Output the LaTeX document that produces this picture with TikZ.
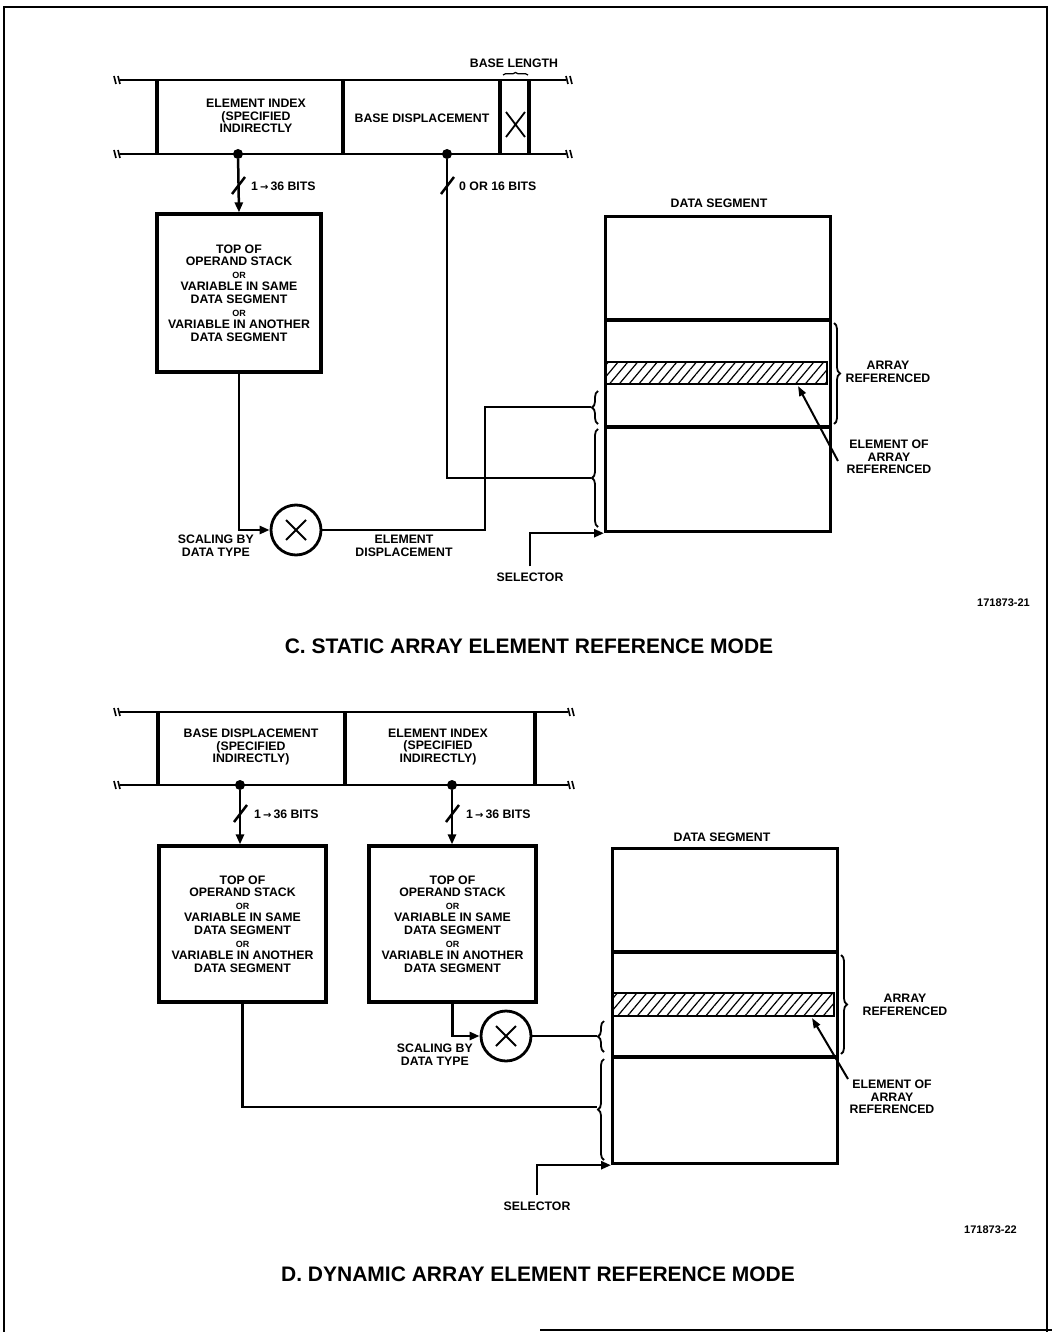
\documentclass[tikz,border=0pt]{standalone}
\usepackage{fontspec}
\setmainfont{Liberation Sans}
\newfontfamily\dejavu{DejaVu Sans}
\usetikzlibrary{arrows.meta,decorations.pathreplacing,patterns.meta,calc}
\tikzset{
  lbl/.style={font=\bfseries\fontsize{12.3}{12.6}\selectfont, inner sep=0pt, align=center},
  boxtxt/.style={font=\bfseries\fontsize{12.3}{12.6}\selectfont, align=center},
  ttl/.style={font=\bfseries\fontsize{21}{22}\selectfont, inner sep=0pt},
  figcap/.style={font=\bfseries\fontsize{11}{12}\selectfont, inner sep=0pt},
  fbox/.style={draw, line width=3.2pt},
  wire/.style={line width=2.5pt},
  arr/.style={wire, -{Triangle[length=10pt,width=8pt]}},
  tarr/.style={line width=2pt, -{Triangle[length=10pt,width=7pt]}},
  dot/.style={circle, fill, inner sep=0pt, minimum size=10pt},
  mult/.style={circle, draw, line width=2.8pt, minimum size=50pt, inner sep=0pt},
  brc/.style={decorate, decoration={brace, amplitude=6pt}, line width=1.8pt},
  hatch/.style={draw, line width=2pt, pattern={Lines[angle=50,distance=7.5pt,line width=1.2pt]}},
  brk/.style={line width=1.6pt},
}
\newcommand{\orw}{{\fontsize{9}{9}\selectfont OR}}
\newcommand{\stacktext}{TOP OF\\OPERAND STACK\\\orw\\VARIABLE IN SAME\\DATA SEGMENT\\\orw\\VARIABLE IN ANOTHER\\DATA SEGMENT}
\newcommand{\bitsarrow}{{\dejavu\fontsize{10}{10}\selectfont→}}
\begin{document}
\begin{tikzpicture}[x=1pt,y=-1pt]
\useasboundingbox (0,0) rectangle (1052,1332);
% page frame
\draw[line width=2pt] (4,1332) -- (4,7) -- (1047,7) -- (1047,1332);
\draw[line width=2pt] (540,1330) -- (1052,1330);

%================ PART C ================
\draw[wire] (120,80) -- (566,80);
\draw[wire] (120,154) -- (566,154);
\foreach \yy in {80,154}{
  \draw[brk] (114,\yy-4) -- (116,\yy+4) (118,\yy-4) -- (120,\yy+4);
  \draw[brk] (566,\yy-4) -- (568,\yy+4) (570,\yy-4) -- (572,\yy+4);
}
\foreach \xx in {157,343,500,529}{\draw[line width=3.2pt] (\xx,80) -- (\xx,154);}
\node[lbl] (eiC) at (256,116) {ELEMENT INDEX\\(SPECIFIED\\INDIRECTLY};
\node[lbl] (bdC) at (422,118) {BASE DISPLACEMENT};
\draw[line width=1.8pt] (506,112) -- (525,137) (506,137) -- (525,112);
\node[lbl] (blC) at (514,63) {BASE LENGTH};
\draw[decorate, decoration={brace, amplitude=2.5pt}, line width=1.3pt] (503,75) -- (528,75);

\node[dot] (dC1) at (238,154) {};
\node[dot] (dC2) at (447,154) {};
\node[fbox, minimum width=164pt, minimum height=158pt, boxtxt] (bC1) at (239,293) {\stacktext};
\draw[arr] (dC1) -- (bC1.north);
\draw[wire] (232,194) -- (245,177);
\node[lbl, anchor=west] (bitsC1) at (251,186) {1\,\bitsarrow\,36 BITS};
\draw[wire] (441,194) -- (454,177);
\node[lbl, anchor=west] (bitsC2) at (459,186) {0 OR 16 BITS};

\node[lbl] (dsCl) at (719,203) {DATA SEGMENT};
\node[fbox, minimum width=225pt, minimum height=315pt, anchor=north west] (dsC) at (604,215) {};
\draw[line width=3.2pt] (604,320) -- (829,320);
\draw[line width=3.2pt] (604,427) -- (829,427);
\draw[hatch] (606,362) rectangle (827,384);
\draw[brc] (834,323) -- (834,424);
\node[lbl] (arC) at (888,372) {ARRAY\\REFERENCED};
\node[lbl] (elC) at (889,457) {ELEMENT OF\\ARRAY\\REFERENCED};
\coordinate (elCs) at (838,461);
\coordinate (elCe) at (798,386);
\draw[tarr] (elCs) -- (elCe);

\draw[brc] (598,424) -- (598,391);
\draw[brc] (598,527) -- (598,429);
\coordinate (tUC) at (591,407);
\coordinate (tLC) at (591,478);

\node[mult] (mC) at (296,530) {};
\draw[line width=1.8pt] ($(mC)+(-10,-10)$) -- ($(mC)+(10,10)$) ($(mC)+(-10,10)$) -- ($(mC)+(10,-10)$);
\draw[arr] (bC1.south) |- (mC.west);
\node[lbl, anchor=north east, align=center] (scC) at (254,535) {SCALING BY\\DATA TYPE};
\draw[wire] (mC.east) -- (485,530) -- (485,407) -- (tUC);
\node[lbl] (edC) at (404,546) {ELEMENT\\DISPLACEMENT};
\draw[wire] (dC2) -- (447,478) -- (tLC);

\node[lbl] (selC) at (530,577) {SELECTOR};
\draw[arr, shorten <=6pt] (selC.north) |- (dsC.south west);

\node[figcap, anchor=east] (capC) at (1030,603) {171873-21};
\node[ttl] (ttlC) at (529,646) {C. STATIC ARRAY ELEMENT REFERENCE MODE};

%================ PART D ================
\draw[wire] (120,712) -- (568,712);
\draw[wire] (120,785) -- (568,785);
\foreach \yy in {712,785}{
  \draw[brk] (114,\yy-4) -- (116,\yy+4) (118,\yy-4) -- (120,\yy+4);
  \draw[brk] (568,\yy-4) -- (570,\yy+4) (572,\yy-4) -- (574,\yy+4);
}
\foreach \xx in {158,345,535}{\draw[line width=3.2pt] (\xx,712) -- (\xx,785);}
\node[lbl] (bdD) at (251,747) {BASE DISPLACEMENT\\(SPECIFIED\\INDIRECTLY)};
\node[lbl] (eiD) at (438,747) {ELEMENT INDEX\\(SPECIFIED\\INDIRECTLY)};

\node[dot] (dD1) at (240,785) {};
\node[dot] (dD2) at (452,785) {};
\node[fbox, minimum width=167pt, minimum height=156pt, boxtxt] (bD1) at (242.5,924) {\stacktext};
\node[fbox, minimum width=167pt, minimum height=156pt, boxtxt] (bD2) at (452.5,924) {\stacktext};
\draw[arr] (dD1) -- (dD1 |- bD1.north);
\draw[arr] (dD2) -- (dD2 |- bD2.north);
\draw[wire] (234,822) -- (247,805);
\node[lbl, anchor=west] (bitsD1) at (254,814) {1\,\bitsarrow\,36 BITS};
\draw[wire] (446,822) -- (459,805);
\node[lbl, anchor=west] (bitsD2) at (466,814) {1\,\bitsarrow\,36 BITS};

\node[lbl] (dsDl) at (722,837) {DATA SEGMENT};
\node[fbox, minimum width=225pt, minimum height=315pt, anchor=north west] (dsD) at (611,847) {};
\draw[line width=3.2pt] (611,952) -- (836,952);
\draw[line width=3.2pt] (611,1057) -- (836,1057);
\draw[hatch] (613,993) rectangle (834,1016);
\draw[brc] (841,955) -- (841,1054);
\node[lbl] (arD) at (905,1005) {ARRAY\\REFERENCED};
\node[lbl] (elD) at (892,1097) {ELEMENT OF\\ARRAY\\REFERENCED};
\coordinate (elDs) at (848,1079);
\coordinate (elDe) at (812,1018);
\draw[tarr] (elDs) -- (elDe);

\draw[brc] (604,1052) -- (604,1021);
\draw[brc] (604,1160) -- (604,1059);
\coordinate (tUD) at (597,1036);
\coordinate (tLD) at (597,1107);

\node[mult] (mD) at (506,1036) {};
\draw[line width=1.8pt] ($(mD)+(-10,-10)$) -- ($(mD)+(10,10)$) ($(mD)+(-10,10)$) -- ($(mD)+(10,-10)$);
\draw[arr] (bD2.south) |- (mD.west);
\node[lbl, anchor=north east] (scD) at (473,1044) {SCALING BY\\DATA TYPE};
\draw[wire] (mD.east) -- (tUD);
\draw[wire] (bD1.south) |- (tLD);

\node[lbl] (selD) at (537,1206) {SELECTOR};
\draw[arr, shorten <=6pt] (selD.north) |- (dsD.south west);

\node[figcap, anchor=east] (capD) at (1017,1230) {171873-22};
\node[ttl] (ttlD) at (538,1274) {D. DYNAMIC ARRAY ELEMENT REFERENCE MODE};
\end{tikzpicture}
\end{document}
